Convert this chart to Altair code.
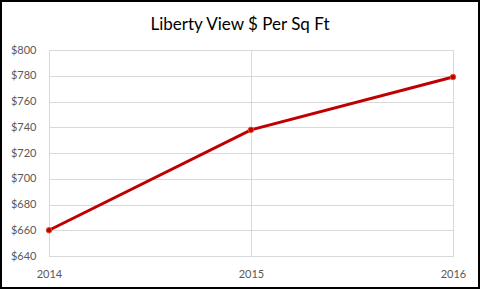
import altair as alt
import pandas as pd

years = [2014, 2015, 2016]
values = [660, 738, 779]
chart_title = "Liberty View $ Per Sq Ft"

df = pd.DataFrame({"year": [str(y) for y in years], "value": values})

W, H = 480, 289
PL, PT, PR, PB = 49, 50, 27, 33
pw, ph = W - PL - PR, H - PT - PB

grid = "#D9D9D9"
red = "#C00000"

x = alt.X("year:O", scale=alt.Scale(type="point", padding=0),
          axis=alt.Axis(title=None, grid=True, gridColor=grid, labelAngle=0,
                        domainColor=grid, tickSize=0, labelPadding=12,
                        labelColor="#595959", labelFont="Lato", labelFontSize=11))
y = alt.Y("value:Q", scale=alt.Scale(domain=[640, 800], nice=False, zero=False),
          axis=alt.Axis(values=list(range(640, 801, 20)), format="$d", title=None, grid=True,
                        gridColor=grid, domainColor=grid, tickSize=0, labelPadding=13,
                        labelColor="#595959", labelFont="Lato", labelFontSize=11))

line = alt.Chart(df).mark_line(color=red, strokeWidth=3).encode(x=x, y=y)
pts = alt.Chart(df).mark_circle(color=red, size=30, opacity=1, stroke="#E0502A", strokeWidth=1).encode(x=x, y=y)

border = alt.Chart(df).mark_rect(fill=None, stroke="black", strokeWidth=2, clip=False).encode(
    x=alt.value(-PL + 1), x2=alt.value(pw + PR - 1),
    y=alt.value(-PT + 1), y2=alt.value(ph + PB - 1))

title = alt.Chart(pd.DataFrame({"t": [chart_title]})).mark_text(
    font="Lato", fontSize=17, color="black", align="center", baseline="middle"
).encode(text="t:N", x=alt.value(W / 2 - PL), y=alt.value(25 - PT))

chart = alt.layer(line, pts, border, title).properties(
    width=pw, height=ph,
    autosize=alt.AutoSizeParams(type="none"),
    padding={"left": PL, "top": PT, "right": PR, "bottom": PB},
).configure_view(stroke=grid).configure(background="white")

chart.save("out.html", embed_options={"renderer": "svg", "actions": False})
